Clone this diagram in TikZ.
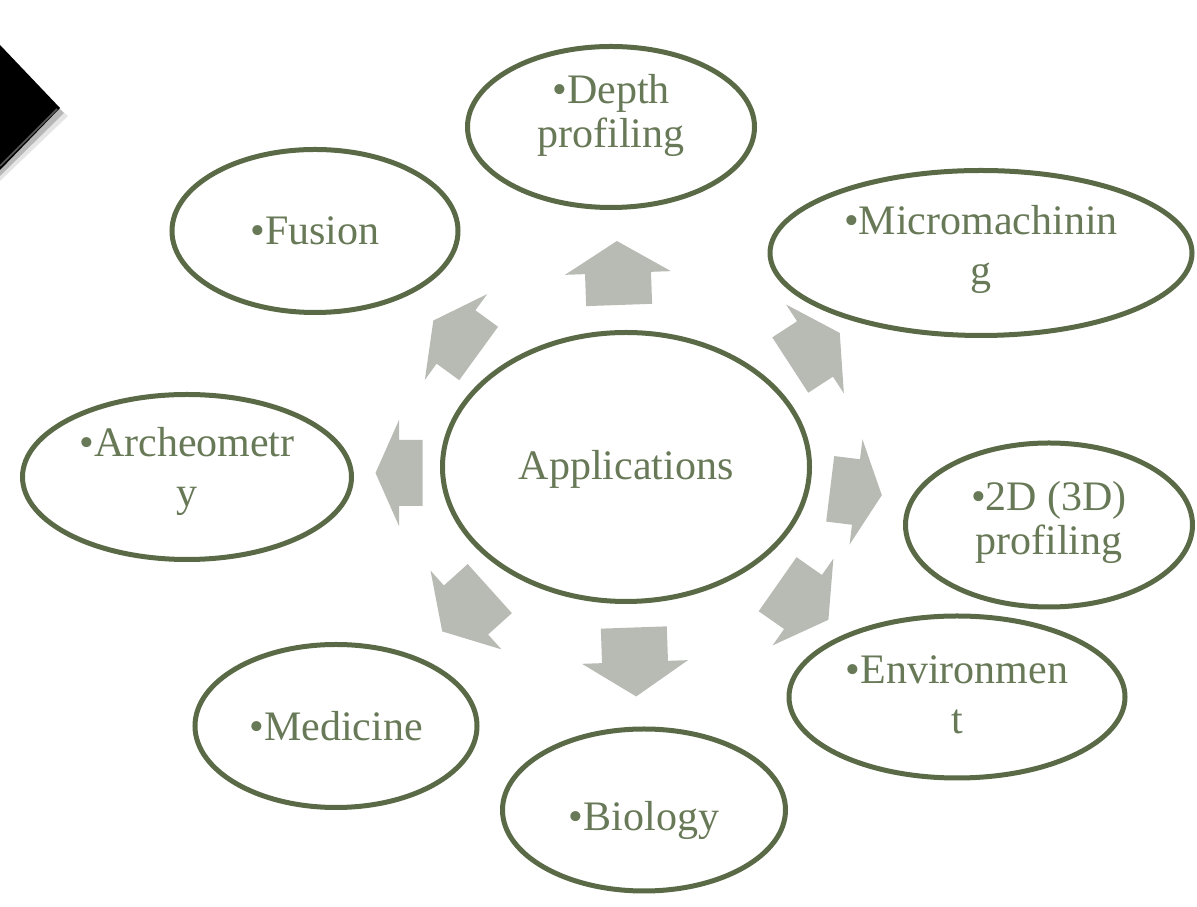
\documentclass[tikz,border=0pt]{standalone}
\usepackage{fontspec}
\setmainfont{Liberation Serif}
\usepackage{tikz}
\usetikzlibrary{shapes.geometric}

\definecolor{rimgreen}{RGB}{90,106,70}
\definecolor{labelgreen}{RGB}{104,121,87}
\definecolor{arrowgray}{RGB}{184,187,180}

\tikzset{
  bubble/.style={ellipse, draw=rimgreen, line width=5pt, fill=white, inner sep=0pt},
  caption/.style={align=center, inner sep=0pt, text=labelgreen, font=\fontsize{42}{50}\selectfont},
  tightcaption/.style={caption, font=\fontsize{42}{44}\selectfont},
  blockarrow/.style={fill=arrowgray},
}

\begin{document}
\begin{tikzpicture}[x=1pt,y=1pt]
    \useasboundingbox (0,0) rectangle (1197,907);

    %Corner marker
    \fill[black, opacity=0.10] (0,850) -- (68,791) -- (0,726) -- cycle; %Soft shadow
    \fill[black, opacity=0.20] (0,855) -- (64,794) -- (0,731) -- cycle; %Shadow
    \fill[black] (0,862) -- (60,799) -- (0,737) -- cycle; %Marker
    \draw[black!65, line width=1.5pt] (57,798) -- (0,741); %Edge

    %Centre
    \node[bubble, minimum width=367pt, minimum height=269pt] (app) at (626,440) {};
    \node[caption] (apptxt) at ([yshift=-2pt]app.center) {Applications};

    %Outer bubbles
    \node[bubble, minimum width=287pt, minimum height=161pt] (depth) at (611,780) {};
    \node[bubble, minimum width=422pt, minimum height=165pt] (micro) at (981,654) {};
    \node[bubble, minimum width=287pt, minimum height=164pt] (twod) at (1049,382) {};
    \node[bubble, minimum width=336pt, minimum height=162pt] (envir) at (957,210) {};
    \node[bubble, minimum width=283pt, minimum height=162pt] (bio) at (644,97) {};
    \node[bubble, minimum width=282pt, minimum height=163pt] (medic) at (336,181) {};
    \node[bubble, minimum width=329pt, minimum height=165pt] (archeo) at (187,430) {};
    \node[bubble, minimum width=286pt, minimum height=163pt] (fusion) at (315,676) {};

    %Texts
    \node[tightcaption] (depthtxt) at ([yshift=12pt]depth.center) {•Depth\\profiling};
    \node[caption] (microtxt) at ([yshift=4pt]micro.center) {•Micromachinin\\g};
    \node[tightcaption] (twodtxt) at ([yshift=3pt]twod.center) {•2D (3D)\\profiling};
    \node[caption] (envirtxt) at ([yshift=2pt]envir.center) {•Environmen\\t};
    \node[caption] (biotxt) at ([yshift=-10pt]bio.center) {•Biology};
    \node[caption] (medictxt) at (medic.center) {•Medicine};
    \node[caption] (archeotxt) at ([yshift=6pt]archeo.center) {•Archeometr\\y};
    \node[caption] (fusiontxt) at (fusion.center) {•Fusion};

    %Block arrows (centre x / centre y / angle / length)
    \foreach \cx/\cy/\ang/\len in {618/634/92/64, 815/558/33/59, 856/415/-7/52, 803/305/-35/62,
                                    635/245/-88/69, 466/297/222/64, 399/434/180/47, 456/570/144/56}
        \fill[blockarrow, shift={(\cx,\cy)}, rotate=\ang] ({-\len/2},-33) -- (0,-33) -- (0,-53)
            -- ({\len/2},0) -- (0,53) -- (0,33) -- ({-\len/2},33) -- cycle;

\end{tikzpicture}
\end{document}
